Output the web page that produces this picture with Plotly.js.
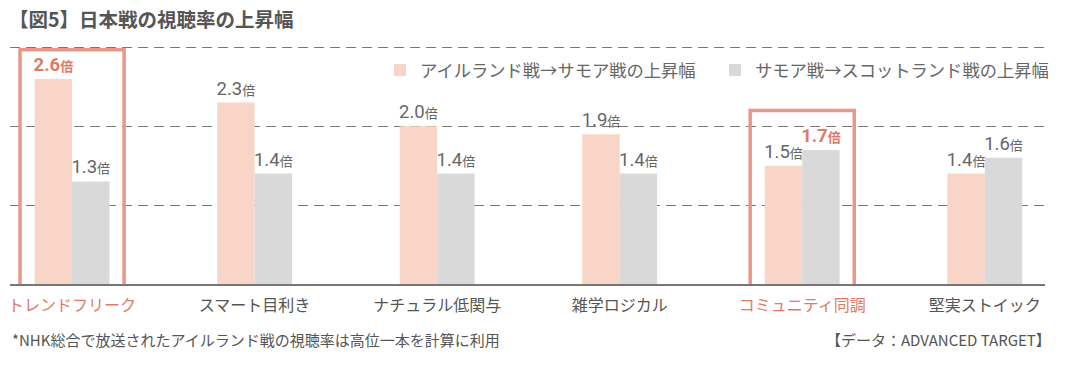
<!DOCTYPE html>
<html><head><meta charset="utf-8">
<script src="https://cdn.plot.ly/plotly-3.0.1.min.js"></script>
<style>body{margin:0;background:#fff}#c{width:1075px;height:372px}</style>
</head><body><div id="c"></div>
<script>
const categories = ['トレンドフリーク','スマート目利き','ナチュラル低関与','雑学ロジカル','コミュニティ同調','堅実ストイック'];
const seriesNames = ['アイルランド戦→サモア戦の上昇幅','サモア戦→スコットランド戦の上昇幅'];
const irelandToSamoa = [2.6, 2.3, 2.0, 1.9, 1.5, 1.4];
const samoaToScotland = [1.3, 1.4, 1.4, 1.4, 1.7, 1.6];
const highlightCategories = [true, false, false, false, true, false];
const highlightSeries1 = [true, false, false, false, false, false];
const highlightSeries2 = [false, false, false, false, true, false];
const titleText = '【図5】日本戦の視聴率の上昇幅';
const footnote = '*NHK総合で放送されたアイルランド戦の視聴率は高位一本を計算に利用';
const sourceText = '【データ：ADVANCED TARGET】';

const HL = '#e07a68', GRAY_TXT = '#666666', BOX = '#e8978a';
const JP = '"Noto Sans CJK JP", "Noto Sans", sans-serif';
const NUM = 'Roboto, "Noto Sans CJK JP", sans-serif';

function labels(vals, hl) {
  return vals.map((v, i) => {
    const s = v.toFixed(1) + '<span style="font-size:13px">倍</span>';
    return hl[i] ? '<b>' + s + '</b>' : s;
  });
}
function colors(hl) { return hl.map(h => h ? HL : GRAY_TXT); }

const traces = [
  {type:'bar', name:seriesNames[0], x:categories, y:irelandToSamoa,
   marker:{color:'#f9d5c7'}, text:labels(irelandToSamoa, highlightSeries1),
   textposition:'outside', constraintext:'none', cliponaxis:false,
   textfont:{family:NUM, size:18.5, color:colors(highlightSeries1)}, hoverinfo:'skip'},
  {type:'bar', name:seriesNames[1], x:categories, y:samoaToScotland,
   marker:{color:'#d9d9d9'}, text:labels(samoaToScotland, highlightSeries2),
   textposition:'outside', constraintext:'none', cliponaxis:false,
   textfont:{family:NUM, size:18.5, color:colors(highlightSeries2)}, hoverinfo:'skip'}
];

const tickText = categories.map((c, i) => highlightCategories[i] ? '<span style="color:' + HL + '">' + c + '</span>' : c);

const shapes = [];
highlightCategories.forEach((h, i) => {
  if (!h) return;
  const top = Math.max(irelandToSamoa[i], samoaToScotland[i]) + 0.5;
  shapes.push({type:'rect', xref:'x', yref:'y', x0:i-0.285, x1:i+0.285, y0:-0.05, y1:Math.min(top, 2.97),
    line:{color:BOX, width:3.5}, fillcolor:'rgba(0,0,0,0)', layer:'above'});
});

const TOP = 3.03;
const mt = 47 - (TOP - 3) * 79;
const ph = 372 - mt - 88;

const layout = {
  width:1075, height:372,
  margin:{l:10, r:30, t:mt, b:88, autoexpand:false},
  paper_bgcolor:'#fff', plot_bgcolor:'#fff',
  font:{family:JP, color:GRAY_TXT},
  title:{text:'<b>' + titleText + '</b>', font:{family:JP, size:19.5, color:'#555'},
    xref:'container', yref:'container', x:9/1075, xanchor:'left', y:1-20/372, yanchor:'middle'},
  barmode:'group', bargap:0.59, bargroupgap:0,
  showlegend:true,
  legend:{orientation:'h', x:(380-10)/1035, xanchor:'left', y:(284-70)/ph, yref:'paper', yanchor:'middle',
    entrywidth:290, entrywidthmode:'pixels',
    font:{family:JP, size:17.3, color:GRAY_TXT}, bgcolor:'rgba(0,0,0,0)', traceorder:'normal'},
  xaxis:{type:'category', range:[-0.34, 5.33], tickvals:categories, ticktext:tickText,
    showline:true, linecolor:'#777', linewidth:1.5, ticks:'', showgrid:false, ticklabelstandoff:6,
    tickfont:{family:JP, size:16, color:'#555'}, fixedrange:true},
  yaxis:{range:[0, TOP], tickvals:[1,2,3], showticklabels:false, showgrid:true,
    gridcolor:'#777', gridwidth:1, griddash:'10px,6px', zeroline:false, showline:false, fixedrange:true},
  shapes:shapes,
  annotations:[
    {text:footnote, xref:'paper', yref:'paper', x:0, xanchor:'left', y:-(340-284)/ph, yanchor:'middle',
      showarrow:false, font:{family:JP, size:15, color:'#555'}},
    {text:sourceText, xref:'paper', yref:'paper', x:1, xanchor:'right', xshift:8, y:-(340-284)/ph, yanchor:'middle',
      showarrow:false, font:{family:JP, size:15, color:'#555'}}
  ]
};
Plotly.newPlot('c', traces, layout, {displayModeBar:false, staticPlot:true});
</script></body></html>
